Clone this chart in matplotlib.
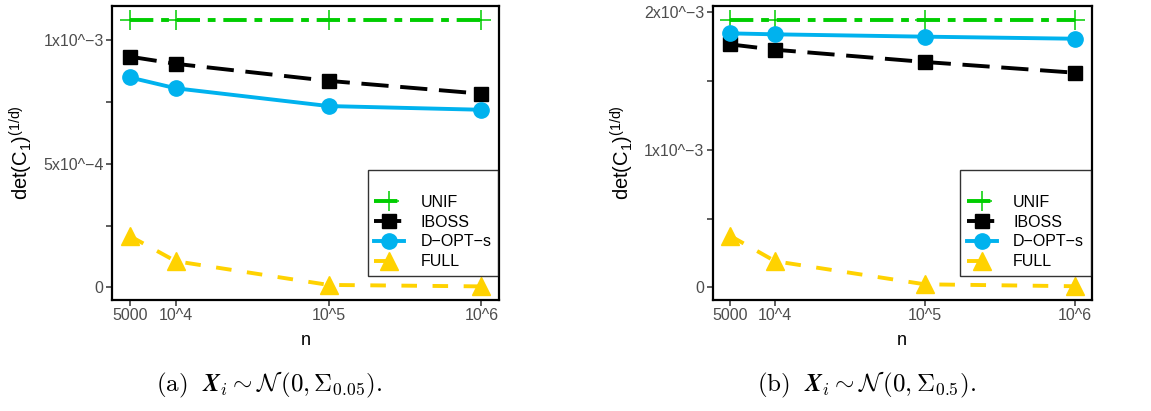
import matplotlib
matplotlib.use('Agg')
import matplotlib.pyplot as plt

plt.rcParams['font.family'] = ['Liberation Sans', 'DejaVu Sans']
plt.rcParams['mathtext.fontset'] = 'custom'
plt.rcParams['mathtext.rm'] = 'Liberation Sans'
plt.rcParams['mathtext.it'] = 'Liberation Sans:italic'

# sample sizes
n_vals = [5000, 1e4, 1e5, 1e6]
n_labels = ['5000', '10^4', '10^5', '10^6']

# panel (a): Sigma_0.05
unif_a = [1.082e-3, 1.082e-3, 1.082e-3, 1.082e-3]
iboss_a = [0.934e-3, 0.905e-3, 0.836e-3, 0.784e-3]
dopt_a = [0.850e-3, 0.806e-3, 0.734e-3, 0.719e-3]
full_a = [0.208e-3, 0.106e-3, 0.010e-3, 0.004e-3]

# panel (b): Sigma_0.5
unif_b = [1.944e-3, 1.944e-3, 1.944e-3, 1.944e-3]
iboss_b = [1.767e-3, 1.728e-3, 1.639e-3, 1.561e-3]
dopt_b = [1.847e-3, 1.840e-3, 1.823e-3, 1.808e-3]
full_b = [0.375e-3, 0.190e-3, 0.022e-3, 0.008e-3]

yticks_a = [0, 2.5e-4, 5e-4, 7.5e-4, 1e-3]
ylabels_a = ['0', '', '5x10^\u22124', '', '1x10^\u22123']
yticks_b = [0, 5e-4, 1e-3, 1.5e-3, 2e-3]
ylabels_b = ['0', '', '1x10^\u22123', '', '2x10^\u22123']

captions = [r'$\mathrm{(a)}\ \ \mathbfit{X}_i \sim \mathcal{N}\,(\mathbf{0}, \mathbf{\Sigma}_{0.05}).$',
            r'$\mathrm{(b)}\ \ \mathbfit{X}_i \sim \mathcal{N}\,(\mathbf{0}, \mathbf{\Sigma}_{0.5}).$']

green = '#00CD00'
blue = '#00B2EE'
gold = '#FFD200'

fig = plt.figure(figsize=(11.51, 4.11), dpi=100)

panels = [
    ([0.0973, 0.2701, 0.3362, 0.7153], unif_a, iboss_a, dopt_a, full_a,
     (-5.1e-5, 1.139e-3), yticks_a, ylabels_a, captions[0], 0.234),
    ([0.6192, 0.2701, 0.3293, 0.7153], unif_b, iboss_b, dopt_b, full_b,
     (-0.092e-3, 2.046e-3), yticks_b, ylabels_b, captions[1], 0.753),
]

for rect, unif, iboss, dopt, full, ylim, yt, yl, cap, capx in panels:
    ax = fig.add_axes(rect)
    ax.plot(n_vals, unif, color=green, lw=2.8, dashes=(6, 2, 2, 2),
            marker='+', ms=14, mew=1.1, label='UNIF')
    ax.plot(n_vals, iboss, color='black', lw=2.8, dashes=(7, 3),
            marker='s', ms=10, label='IBOSS')
    ax.plot(n_vals, dopt, color=blue, lw=2.8, marker='o', ms=11, label='D\u2212OPT\u2212s')
    ax.plot(n_vals, full, color=gold, lw=2.8, dashes=(4, 4),
            marker='^', ms=13, label='FULL')

    ax.set_xscale('log')
    ax.set_xlim(10 ** 3.583, 10 ** 6.115)
    ax.set_xticks(n_vals)
    ax.set_xticklabels(n_labels)
    ax.minorticks_off()
    ax.set_ylim(*ylim)
    ax.set_yticks(yt)
    ax.set_yticklabels(yl)
    ax.tick_params(axis='both', colors='#333333', labelcolor='#4D4D4D',
                   labelsize=11.5, length=4, width=1.1, pad=2)
    for s in ax.spines.values():
        s.set_linewidth(1.6)
        s.set_color('black')

    ax.set_xlabel('n', fontsize=13, labelpad=6)
    ax.set_ylabel(r'det(C$_{1}$)$^{\mathrm{(1/d)}}$', fontsize=14.5, labelpad=6)

    leg = ax.legend(loc='lower right', bbox_to_anchor=(0.997, 0.083),
                    title=' ', title_fontsize=11, fontsize=11.5, frameon=True,
                    fancybox=False, edgecolor='black', handlelength=1.9,
                    handletextpad=1.0, borderpad=0.4, labelspacing=0.3,
                    borderaxespad=0)
    leg.get_frame().set_linewidth(1.0)

    fig.text(capx, 0.063, cap, ha='center', va='center', fontsize=18,
             math_fontfamily='cm')

fig.savefig('out.png', dpi=100)
